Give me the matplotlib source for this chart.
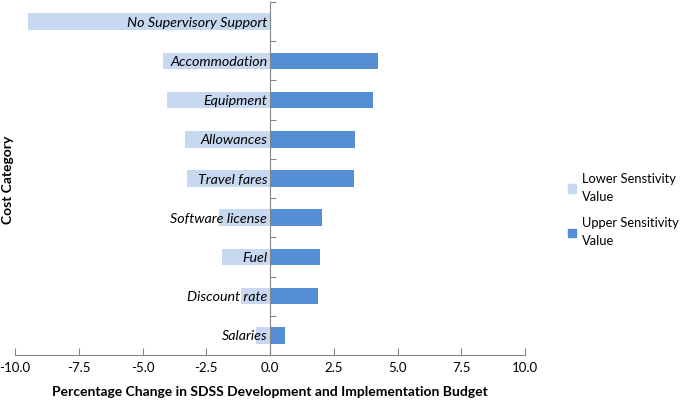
import numpy as np
import matplotlib.pyplot as plt
from matplotlib.patches import Patch

plt.rcParams['font.family'] = ['Lato', 'DejaVu Sans']

# data
categories = ['No Supervisory Support', 'Accommodation', 'Equipment', 'Allowances',
              'Travel fares', 'Software license', 'Fuel', 'Discount rate', 'Salaries']
lower = [-9.5, -4.2, -4.05, -3.35, -3.25, -2.0, -1.9, -1.15, -0.55]
upper = [0.0, 4.25, 4.05, 3.35, 3.3, 2.05, 1.95, 1.9, 0.6]
x_ticks = [-10.0, -7.5, -5.0, -2.5, 0.0, 2.5, 5.0, 7.5, 10.0]

c_low = '#c6d9f1'
c_up = '#558ed5'

fig = plt.figure(figsize=(6.85, 4.0), dpi=100)
ax = fig.add_axes([15/685, 45/400, 510/685, 353/400])

y = np.arange(len(categories))
ax.barh(y, lower, height=0.42, color=c_low)
ax.barh(y, upper, height=0.42, color=c_up)

ax.set_xlim(-10, 10)
ax.set_ylim(len(categories) - 0.5, -0.5)

ax.spines['right'].set_visible(False)
ax.spines['top'].set_visible(False)
ax.spines['left'].set_position(('data', 0))
for s in ['left', 'bottom']:
    ax.spines[s].set_color('#868686')
    ax.spines[s].set_linewidth(0.8)

# x ticks
ax.set_xticks(x_ticks)
ax.set_xticklabels(['%.1f' % v for v in x_ticks], fontsize=9.5)
ax.tick_params(axis='x', direction='in', length=5, color='#868686', pad=5)

# y ticks: boundaries as major, labels at centers as minor
ax.set_yticks(np.arange(-0.5, len(categories), 1.0))
ax.set_yticklabels([])
ax.tick_params(axis='y', which='major', direction='in', length=4, color='#868686')
ax.set_yticks(y, minor=True)
ax.set_yticklabels(categories, minor=True, fontsize=10.3, style='italic')
ax.tick_params(axis='y', which='minor', length=0, pad=2)

ax.set_xlabel('Percentage Change in SDSS Development and Implementation Budget',
              fontsize=10, fontweight='bold', labelpad=9)
fig.text(8/685, 220/400, 'Cost Category', rotation=90, fontsize=10, fontweight='bold',
         ha='center', va='center')

handles = [Patch(color=c_low), Patch(color=c_up)]
leg = fig.legend(handles, ['Lower Senstivity\nValue', 'Upper Sensitivity\nValue'],
                 loc='upper left', bbox_to_anchor=(568/685, 227/400), frameon=False,
                 fontsize=9.3, handlelength=0.6, handleheight=0.6, handletextpad=0.5,
                 labelspacing=1.1, borderpad=0, borderaxespad=0)
for t in leg.get_texts():
    t.set_linespacing(1.6)

fig.savefig('out.png', dpi=100)
